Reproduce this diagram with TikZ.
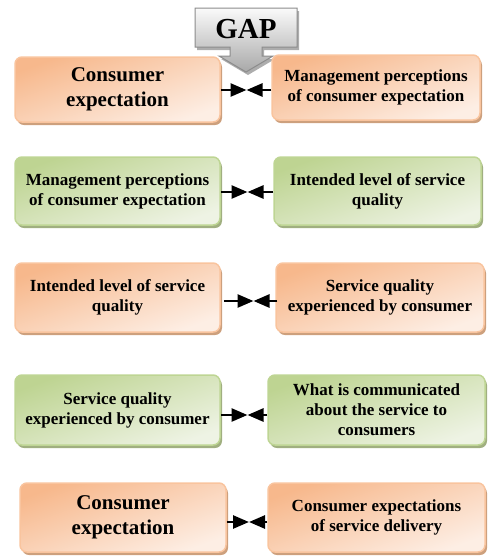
\documentclass[tikz,border=0pt]{standalone}
\usepackage{fontspec}
\setmainfont{Liberation Serif}
\usetikzlibrary{shadows,arrows.meta}
\definecolor{orA}{RGB}{247,184,140}
\definecolor{orB}{RGB}{253,238,228}
\definecolor{orD}{RGB}{249,196,158}
\definecolor{orS}{RGB}{205,160,125}
\definecolor{grA}{RGB}{190,212,146}
\definecolor{grB}{RGB}{238,243,228}
\definecolor{grD}{RGB}{190,213,148}
\definecolor{grS}{RGB}{160,175,128}
\definecolor{gyA}{RGB}{250,250,250}
\definecolor{gyB}{RGB}{168,168,168}
\definecolor{gyD}{RGB}{140,140,140}
\tikzset{
  boxbase/.style={rounded corners=7pt, line width=1.5pt, align=center, inner sep=0pt,
    font=\bfseries\fontsize{17}{20}\selectfont},
  orbox/.style={boxbase, draw=orD, top color=orA, bottom color=orB, shading angle=20,
    drop shadow={shadow xshift=2pt, shadow yshift=-3pt, fill=orS, opacity=1}},
  grbox/.style={boxbase, draw=grD, top color=grA, bottom color=grB, shading angle=20,
    drop shadow={shadow xshift=2pt, shadow yshift=-3pt, fill=grS, opacity=1}},
  bigtext/.style={font=\bfseries\fontsize{21}{25}\selectfont},
  gaparrow/.style={line width=2.6pt, -{Triangle[length=16pt,width=13pt]}},
}
\begin{document}
\begin{tikzpicture}[x=1pt,y=-1pt]
\useasboundingbox (0,0) rectangle (488,558);
% GAP callout
\path[top color=gyA, bottom color=gyB, draw=gyD, line width=1pt,
  drop shadow={shadow xshift=2pt, shadow yshift=-3pt, fill=gyB!70!black, opacity=0.6}]
  (195,8) -- (297,8) -- (297,47) -- (262,47) -- (262,56) -- (273,56) -- (246,72)
  -- (219,56) -- (230,56) -- (230,47) -- (195,47) -- cycle;
\node[font=\bfseries\fontsize{29}{30}\selectfont] (gap) at (246,29) {GAP};
% row 1
\node[orbox, bigtext, minimum width=205pt, minimum height=65pt] (r1l) at (117.5,89.5) {Consumer\\expectation};
\node[orbox, minimum width=208pt, minimum height=65pt] (r1r) at (376,87.5) {Management perceptions\\of consumer expectation};
% row 2
\node[grbox, minimum width=205pt, minimum height=68pt] (r2l) at (117.5,191) {Management perceptions\\of consumer expectation};
\node[grbox, minimum width=207pt, minimum height=68pt] (r2r) at (377.5,191) {Intended level of service\\quality};
% row 3
\node[orbox, minimum width=205pt, minimum height=69pt] (r3l) at (117.5,297.5) {Intended level of service\\quality};
\node[orbox, minimum width=208pt, minimum height=69pt] (r3r) at (380,297.5) {Service quality\\experienced by consumer};
% row 4
\node[grbox, minimum width=205pt, minimum height=70pt] (r4l) at (117.5,410) {Service quality\\experienced by consumer};
\node[grbox, minimum width=217pt, minimum height=70pt] (r4r) at (376.5,410) {What is communicated\\about the service to\\consumers};
% row 5
\node[orbox, bigtext, minimum width=206pt, minimum height=69pt] (r5l) at (123,517.5) {Consumer\\expectation};
\node[orbox, minimum width=217pt, minimum height=69pt] (r5r) at (376.5,517.5) {Consumer expectations\\of service delivery};
% arrow tips (pairs meet at one point)
\coordinate (t1) at (246.5,90);
\coordinate (t2) at (247.5,192);
\coordinate (t3) at (253.5,301);
\coordinate (t4) at (247.5,415);
\coordinate (t5) at (249,522);
\draw[gaparrow] (r1l.east |- t1) -- (t1);
\draw[gaparrow] (r1r.west |- t1) -- (t1);
\draw[gaparrow] (r2l.east |- t2) -- (t2);
\draw[gaparrow] (r2r.west |- t2) -- (t2);
\draw[gaparrow] ([xshift=3pt]r3l.east |- t3) -- (t3);
\draw[gaparrow] ([xshift=2pt]r3r.west |- t3) -- (t3);
\draw[gaparrow] (r4l.east |- t4) -- (t4);
\draw[gaparrow] (r4r.west |- t4) -- (t4);
\draw[gaparrow] (r5l.east |- t5) -- (t5);
\draw[gaparrow] (r5r.west |- t5) -- (t5);
\end{tikzpicture}
\end{document}
